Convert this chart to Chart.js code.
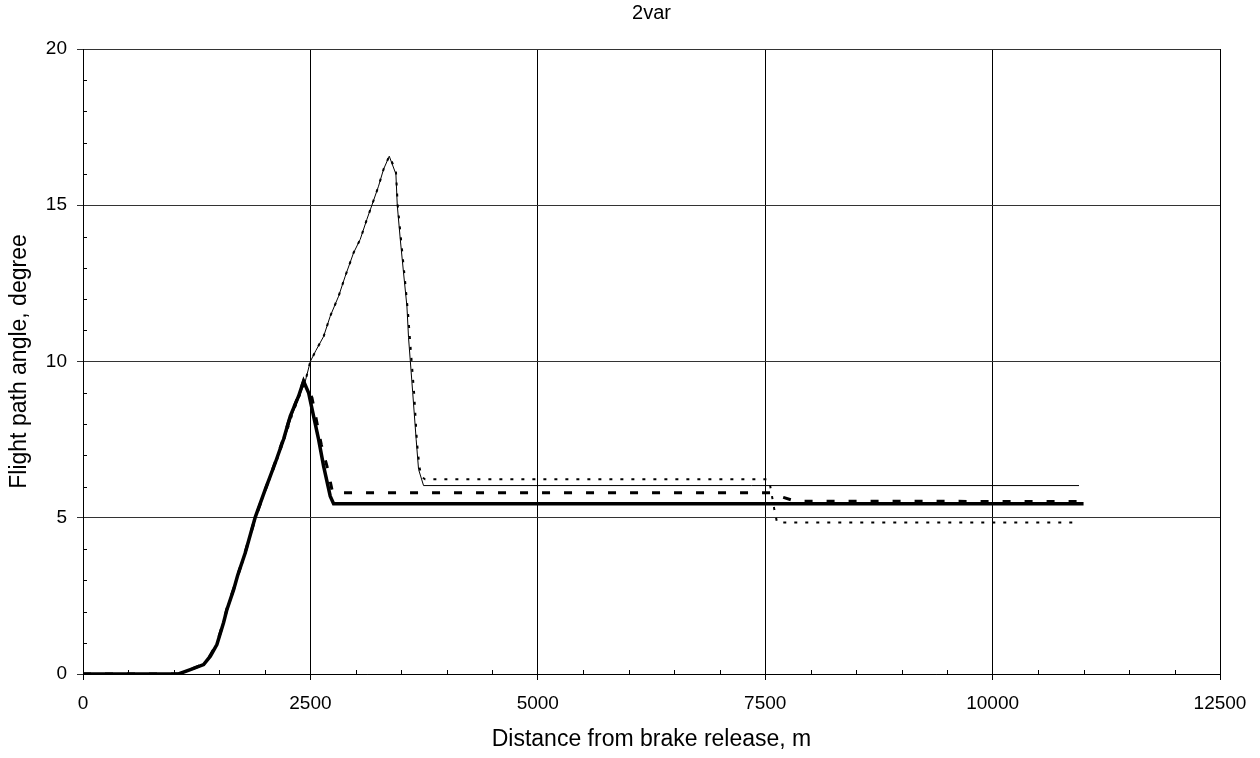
<!DOCTYPE html>
<html>
<head>
<meta charset="utf-8">
<title>2var</title>
<script src="https://cdn.jsdelivr.net/npm/chart.js@4.4.0/dist/chart.umd.min.js"></script>
<style>
body { margin: 0; background: #fff; }
</style>
</head>
<body>
<canvas id="myChart" width="1260" height="758"></canvas>
<script>
// distance from brake release (m) / flight path angle (degree), one pair per curve

// thin solid curve
var thinX = [0, 1050, 1180, 1326, 1400, 1472, 1545, 1582, 1656, 1700, 1784, 1894, 2004, 2114, 2224, 2300, 2380, 2444, 2499,
    2560, 2645, 2718, 2810, 2883, 2975, 3048, 3121, 3176, 3249, 3304, 3367, 3440, 3455, 3488, 3524, 3561, 3579, 3625, 3663, 3689, 3744, 10950];
var thinY = [0, 0, 0.14, 0.30, 0.57, 0.94, 1.64, 2.06, 2.70, 3.12, 3.85, 4.98, 5.88, 6.70, 7.60, 8.30, 8.90, 9.37, 10.0,
    10.35, 10.8, 11.45, 12.09, 12.73, 13.48, 13.91, 14.55, 15.0, 15.61, 16.15, 16.57, 16.0, 15.0, 13.91, 12.84, 11.77, 10.76, 9.0, 7.5, 6.55, 6.03, 6.03];

// dotted curve
var dotX = [0, 1050, 1180, 1326, 1400, 1472, 1545, 1582, 1656, 1700, 1784, 1894, 2004, 2114, 2224, 2300, 2380, 2444, 2499,
    2560, 2645, 2718, 2810, 2883, 2975, 3048, 3121, 3176, 3249, 3304, 3367, 3440, 3460, 3500, 3540, 3575, 3600, 3640, 3672, 3700, 3725, 3762,
    7530, 7550, 7600, 7630, 10900];
var dotY = [0, 0, 0.14, 0.30, 0.57, 0.94, 1.64, 2.06, 2.70, 3.12, 3.85, 4.98, 5.88, 6.70, 7.60, 8.30, 8.90, 9.37, 10.0,
    10.35, 10.8, 11.45, 12.09, 12.73, 13.48, 13.91, 14.55, 15.0, 15.61, 16.15, 16.57, 16.1, 15.0, 13.8, 12.6, 11.5, 10.5, 9.0, 7.4, 6.6, 6.3, 6.23,
    6.23, 6.1, 5.27, 4.85, 4.85];

// thick dashed curve
var dashX = [0, 1050, 1180, 1326, 1400, 1472, 1545, 1582, 1656, 1700, 1784, 1894, 2004, 2114, 2205, 2279, 2370, 2425,
    2517, 2619, 2682, 2737, 2755, 7560, 7620, 7700, 7830, 10970];
var dashY = [0, 0, 0.14, 0.32, 0.60, 0.98, 1.66, 2.08, 2.72, 3.15, 3.90, 5.00, 5.90, 6.78, 7.55, 8.25, 8.92, 9.37,
    8.84, 7.35, 6.65, 5.90, 5.80, 5.80, 5.72, 5.65, 5.53, 5.52];

// thick solid curve
var solidX = [0, 1050, 1180, 1326, 1400, 1472, 1545, 1582, 1656, 1700, 1784, 1894, 2004, 2114, 2205, 2279, 2370, 2425,
    2480, 2535, 2590, 2645, 2718, 2755, 11000];
var solidY = [0, 0, 0.14, 0.30, 0.57, 0.94, 1.64, 2.06, 2.70, 3.15, 3.88, 5.02, 5.91, 6.76, 7.51, 8.25, 8.89, 9.37,
    9.0, 8.25, 7.51, 6.65, 5.69, 5.45, 5.45];

// axis tick labels
var xTicks = [0, 2500, 5000, 7500, 10000, 12500];
var yTicks = [0, 5, 10, 15, 20];
var chartTitle = '2var';

function toPoints(xs, ys) {
    var pts = [];
    for (var i = 0; i < xs.length; i++) {
        pts.push({ x: xs[i], y: ys[i] });
    }
    return pts;
}

// small minor tick marks inside the plot + title centred over the plot area
var extras = {
    id: 'extras',
    afterDraw: function (chart) {
        var ctx = chart.ctx;
        var xs = chart.scales.x;
        var ys = chart.scales.y;
        var area = chart.chartArea;
        ctx.save();
        ctx.strokeStyle = '#000';
        ctx.lineWidth = 1;
        ctx.beginPath();
        for (var v = 500; v < 12500; v += 500) {
            if (v % 2500 === 0) continue;
            var px = Math.round(xs.getPixelForValue(v)) + 0.5;
            ctx.moveTo(px, area.bottom);
            ctx.lineTo(px, area.bottom - 4);
        }
        for (var w = 1; w < 20; w++) {
            if (w % 5 === 0) continue;
            var py = Math.round(ys.getPixelForValue(w)) + 0.5;
            ctx.moveTo(area.left, py);
            ctx.lineTo(area.left + 4, py);
        }
        ctx.stroke();

        ctx.fillStyle = '#000';
        ctx.font = "20px 'Liberation Sans', Arial, sans-serif";
        ctx.textAlign = 'center';
        ctx.textBaseline = 'middle';
        ctx.fillText(chartTitle, (area.left + area.right) / 2, 13);
        ctx.restore();
    }
};

Chart.defaults.font.family = "'Liberation Sans', Arial, sans-serif";
Chart.defaults.color = '#000';

var ctx = document.getElementById('myChart');
var myChart = new Chart(ctx, {
    type: 'line',
    data: {
        datasets: [{
            label: 'solid',
            data: toPoints(solidX, solidY),
            borderColor: '#000',
            borderWidth: 3.5
        }, {
            label: 'dashed',
            data: toPoints(dashX, dashY),
            borderColor: '#000',
            borderWidth: 3,
            borderDash: [8, 14]
        }, {
            label: 'dotted',
            data: toPoints(dotX, dotY),
            borderColor: '#000',
            borderWidth: 2,
            borderDash: [3, 8]
        }, {
            label: 'thin',
            data: toPoints(thinX, thinY),
            borderColor: '#000',
            borderWidth: 1
        }]
    },
    options: {
        responsive: false,
        animation: false,
        elements: {
            point: { radius: 0 },
            line: { tension: 0, fill: false }
        },
        layout: { padding: { left: 0, right: 40, top: 49, bottom: 0 } },
        plugins: {
            legend: { display: false },
            tooltip: { enabled: false },
            title: { display: false }
        },
        scales: {
            x: {
                type: 'linear',
                min: 0,
                max: 12500,
                afterBuildTicks: function (scale) {
                    scale.ticks = xTicks.map(function (v) { return { value: v }; });
                },
                afterFit: function (scale) { scale.height = 84; },
                grid: { color: '#000', lineWidth: 1, tickLength: 6 },
                border: { color: '#000' },
                ticks: {
                    font: { size: 19 }, padding: 12, maxRotation: 0, autoSkip: false,
                    callback: function (v) { return String(v); }
                },
                title: {
                    display: true,
                    text: 'Distance from brake release, m',
                    font: { size: 23 },
                    padding: { bottom: 5 }
                }
            },
            y: {
                min: 0,
                max: 20,
                afterBuildTicks: function (scale) {
                    scale.ticks = yTicks.map(function (v) { return { value: v }; });
                },
                afterFit: function (scale) { scale.width = 83; },
                grid: { color: '#333', lineWidth: 1, tickLength: 6 },
                border: { color: '#000' },
                ticks: {
                    font: { size: 19 }, padding: 10,
                    callback: function (v) { return String(v); }
                },
                title: {
                    display: true,
                    text: 'Flight path angle, degree',
                    font: { size: 23 },
                    padding: { top: 6 }
                }
            }
        }
    },
    plugins: [extras]
});
</script>
</body>
</html>
